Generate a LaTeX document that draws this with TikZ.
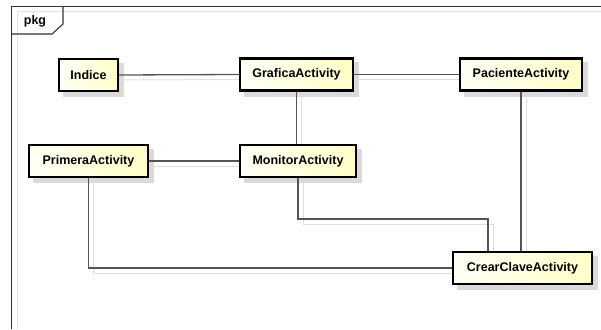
\documentclass[tikz,border=0pt]{standalone}
\usepackage{fontspec}
\setmainfont{Liberation Sans}
\usetikzlibrary{backgrounds}
\definecolor{boxfillR}{RGB}{255,255,200}
\definecolor{boxfillL}{RGB}{255,255,245}
\definecolor{conn}{RGB}{85,85,85}
\definecolor{shadowgray}{RGB}{218,218,218}
\definecolor{lineshadow}{RGB}{222,222,222}
\definecolor{framegray}{RGB}{225,225,225}
\tikzset{
  cls/.style={draw=black, line width=2.2pt, left color=boxfillL, right color=boxfillR,
    font=\bfseries\fontsize{12.5}{15}\selectfont, inner sep=0pt, minimum height=32pt},
  clsshadow/.style={fill=shadowgray, draw=none},
  link/.style={draw=conn, line width=1.3pt},
  linkshadow/.style={draw=lineshadow, line width=1pt, transform canvas={shift={(5pt,-5pt)}}},
  frameline/.style={draw=black!80, line width=1.1pt},
}
\begin{document}
\begin{tikzpicture}[x=1pt,y=1pt]
\useasboundingbox (0,0) rectangle (601,-329);
% frame
\draw[draw=framegray, line width=1pt] (17,-329) -- (17,-12) -- (601,-12);
\draw[frameline] (11.5,-329) -- (11.5,-6.5) -- (601,-6.5);
\draw[frameline] (63,-6.5) -- (63,-24) -- (52,-34) -- (11.5,-34);
\node[font=\bfseries\fontsize{12.5}{15}\selectfont, anchor=center] (pkg) at (35,-21) {pkg};
\coordinate (k1) at (488,-219);
% nodes
\node[cls, minimum width=59pt] (ind) at (88.5,-75) {Indice};
\node[cls, minimum width=113pt] (gra) at (296.5,-74.5) {GraficaActivity};
\node[cls, minimum width=122pt] (pac) at (521,-74.5) {PacienteActivity};
\node[cls, minimum width=119pt] (pri) at (88.5,-161) {PrimeraActivity};
\node[cls, minimum width=116pt] (mon) at (298,-161) {MonitorActivity};
\node[cls, minimum width=139pt] (cre) at (522.5,-268) {CrearClaveActivity};
\begin{pgfonlayer}{background}
% node shadows
\foreach \n in {ind,gra,pac,pri,mon,cre}
  \fill[clsshadow] ([shift={(5pt,-5pt)}]\n.north west) rectangle ([shift={(5pt,-5pt)}]\n.south east);
% connector shadows
\draw[linkshadow] (ind.east) -- (gra.west);
\draw[linkshadow] (gra.east) -- (pac.west);
\draw[linkshadow] (pri.east) -- (mon.west);
\draw[linkshadow] (gra.south) -- (gra.south |- mon.north);
\draw[linkshadow] (pac.south) -- (pac.south |- cre.north);
\draw[linkshadow] (mon.south) |- (k1) -- (k1 |- cre.north);
\draw[linkshadow] (pri.south) |- (cre.west);
% connectors
\draw[link] (ind.east) -- (gra.west);
\draw[link] (gra.east) -- (pac.west);
\draw[link] (pri.east) -- (mon.west);
\draw[link] (gra.south) -- (gra.south |- mon.north);
\draw[link] (pac.south) -- (pac.south |- cre.north);
\draw[link] (mon.south) |- (k1) -- (k1 |- cre.north);
\draw[link] (pri.south) |- (cre.west);
\end{pgfonlayer}
\end{tikzpicture}
\end{document}
